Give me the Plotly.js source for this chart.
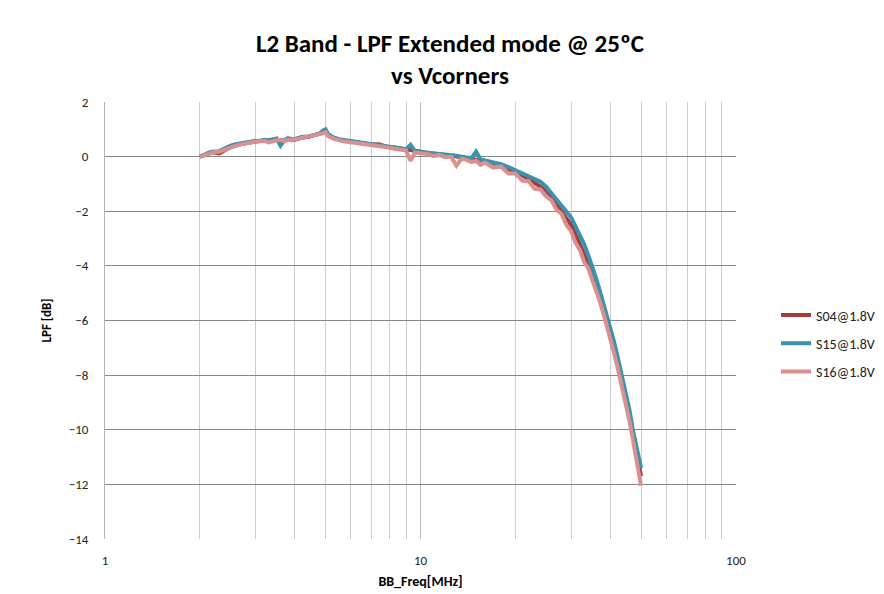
<!DOCTYPE html>
<html>
<head>
<meta charset="utf-8">
<script src="https://cdn.plot.ly/plotly-3.0.1.min.js"></script>
<style>html,body{margin:0;padding:0;background:#fff;}#chart{width:884px;height:594px;}</style>
</head>
<body>
<div id="chart"></div>
<script>
const freq = [2, 2.05, 2.1, 2.15, 2.2, 2.3, 2.4, 2.5, 2.6, 2.7, 2.8, 2.9, 3.0, 3.1, 3.2, 3.3, 3.4, 3.5, 3.6, 3.7, 3.8, 3.9, 4.0, 4.2, 4.4, 4.6, 4.8, 4.9, 5.0, 5.1, 5.3, 5.5, 5.7, 6.0, 6.3, 6.6, 7.0, 7.4, 7.8, 8.2, 8.6, 9.0, 9.3, 9.6, 10, 10.5, 11, 11.5, 12, 12.5, 13, 13.5, 14, 14.5, 15, 15.5, 16, 17, 18, 19, 20, 21, 22, 23, 24, 25, 26, 27, 28, 29, 30, 31, 32, 33, 34, 35, 36, 37, 38, 39, 40, 41, 42, 43, 44, 45, 46, 47, 48, 49, 50];

const s04 = [0.0, 0.05, 0.1, 0.14, 0.16, 0.12, 0.25, 0.35, 0.42, 0.46, 0.5, 0.52,
  0.56, 0.58, 0.6, 0.56, 0.6, 0.62, 0.6, 0.58, 0.64, 0.6, 0.62,
  0.7, 0.72, 0.78, 0.82, 0.88, 0.95, 0.8, 0.68, 0.62, 0.58,
  0.56, 0.52, 0.48, 0.44, 0.45, 0.36, 0.34, 0.3, 0.26, 0.24, 0.18,
  0.16, 0.14, 0.11, 0.1, 0.06, 0.04, 0.01, -0.02, -0.05, -0.08, -0.1, -0.14, -0.2,
  -0.27, -0.36, -0.45, -0.55,
  -0.68, -0.82, -0.95, -1.1, -1.25, -1.45, -1.75, -2.0, -2.25, -2.5, -2.85, -3.2, -3.55, -3.9, -4.25,
  -4.65, -5.1, -5.55, -6.0, -6.5, -6.95, -7.45, -7.95, -8.45, -8.95, -9.5, -10.1, -10.65, -11.15, -11.7];

const s15 = [0.0, 0.06, 0.12, 0.16, 0.18, 0.2, 0.3, 0.4, 0.45, 0.48, 0.5, 0.55,
  0.58, 0.56, 0.62, 0.6, 0.64, 0.66, 0.4, 0.6, 0.68, 0.64, 0.65,
  0.72, 0.74, 0.78, 0.84, 0.95, 1.0, 0.82, 0.7, 0.64, 0.6,
  0.57, 0.54, 0.5, 0.46, 0.43, 0.38, 0.35, 0.3, 0.27, 0.43, 0.2,
  0.17, 0.15, 0.13, 0.11, 0.08, 0.06, 0.03, 0.0, -0.03, -0.06, 0.18, -0.1, -0.14,
  -0.2, -0.28, -0.38, -0.5,
  -0.62, -0.75, -0.85, -0.92, -1.1, -1.35, -1.6, -1.8, -2.0, -2.22, -2.55, -2.85, -3.2, -3.6, -4.0,
  -4.45, -4.9, -5.35, -5.8, -6.3, -6.75, -7.25, -7.75, -8.25, -8.75, -9.3, -9.95, -10.45, -10.95, -11.4];

const s16 = [0.0, 0.04, 0.1, 0.13, 0.15, 0.18, 0.26, 0.36, 0.4, 0.45, 0.5, 0.52,
  0.55, 0.57, 0.58, 0.52, 0.58, 0.6, 0.62, 0.56, 0.62, 0.6, 0.63,
  0.68, 0.72, 0.76, 0.8, 0.85, 0.9, 0.75, 0.66, 0.6, 0.56,
  0.53, 0.5, 0.46, 0.42, 0.38, 0.34, 0.3, 0.27, 0.22, -0.15, 0.15,
  0.12, 0.1, 0.02, 0.06, -0.02, 0.0, -0.33, -0.08, -0.12, -0.2, -0.15, -0.3, -0.22,
  -0.4, -0.36, -0.62, -0.62,
  -0.88, -0.9, -1.18, -1.2, -1.45, -1.6, -1.95, -2.1, -2.5, -2.72, -3.15, -3.42, -3.85, -4.08, -4.5,
  -4.85, -5.3, -5.75, -6.2, -6.65, -7.15, -7.65, -8.15, -8.65, -9.15, -9.7, -10.3, -10.9, -11.5, -12.05];

const seriesNames = ['S04@1.8V', 'S15@1.8V', 'S16@1.8V'];
const seriesColors = ['#A83A3A', '#3A93AE', '#D8918F'];
const seriesData = [s04, s15, s16];

const yTicks = [2, 0, -2, -4, -6, -8, -10, -12, -14];
const xTickVals = [1, 10, 100];
const xTickText = ['1', '10', '100'];
const xMinor = [2, 3, 4, 5, 6, 7, 8, 9, 20, 30, 40, 50, 60, 70, 80, 90];

const FONT = 'Carlito, Lato, "Liberation Sans", sans-serif';

const traces = seriesData.map((d, i) => ({
  x: freq, y: d, type: 'scatter', mode: 'lines', name: seriesNames[i],
  legendgroup: 'g' + i,
  line: {color: seriesColors[i], width: 4}
}));

const layout = {
  width: 884, height: 594,
  margin: {l: 105, r: 148, t: 102, b: 55, autoexpand: false},
  paper_bgcolor: '#fff', plot_bgcolor: '#fff',
  font: {family: FONT, size: 12, color: '#222'},
  title: {
    text: '<b>L2 Band - LPF Extended mode @ 25ºC<br>vs Vcorners</b>',
    font: {family: FONT, size: 25, color: '#000'},
    x: 0.509, xref: 'container', xanchor: 'center', y: 0.913, yref: 'container', yanchor: 'top'
  },
  xaxis: {
    type: 'log', range: [0, 2],
    tickmode: 'array', tickvals: xTickVals, ticktext: xTickText,
    showgrid: true, gridcolor: '#bdbdbd', gridwidth: 1,
    minor: {tickmode: 'array', tickvals: xMinor, showgrid: true, gridcolor: '#cccccc', gridwidth: 1, ticks: ''},
    showline: false, zeroline: false, ticks: '',
    ticklabelstandoff: 12,
    tickfont: {family: FONT, size: 13, color: '#222'},
    title: {text: '<b>BB_Freq[MHz]</b>', font: {family: FONT, size: 14, color: '#000'}, standoff: 9}
  },
  yaxis: {
    range: [-14, 2], tickmode: 'array', tickvals: yTicks,
    showgrid: true, gridcolor: '#868686', gridwidth: 1,
    zeroline: false, showline: true, linecolor: '#b5b5b5', linewidth: 1,
    ticks: '', ticklabelstandoff: 13,
    tickfont: {family: FONT, size: 13, color: '#222'},
    title: {text: '<b>LPF [dB]</b>', font: {family: FONT, size: 13, color: '#000'}, standoff: 14}
  },
  showlegend: true,
  legend: {
    x: 1.0634, xref: 'paper', xanchor: 'left',
    y: 0.548, yanchor: 'top',
    traceorder: 'grouped', tracegroupgap: 7,
    font: {family: FONT, size: 14, color: '#222'},
    bgcolor: 'rgba(0,0,0,0)'
  }
};

Plotly.newPlot('chart', traces, layout, {displayModeBar: false, staticPlot: true});
</script>
</body>
</html>
